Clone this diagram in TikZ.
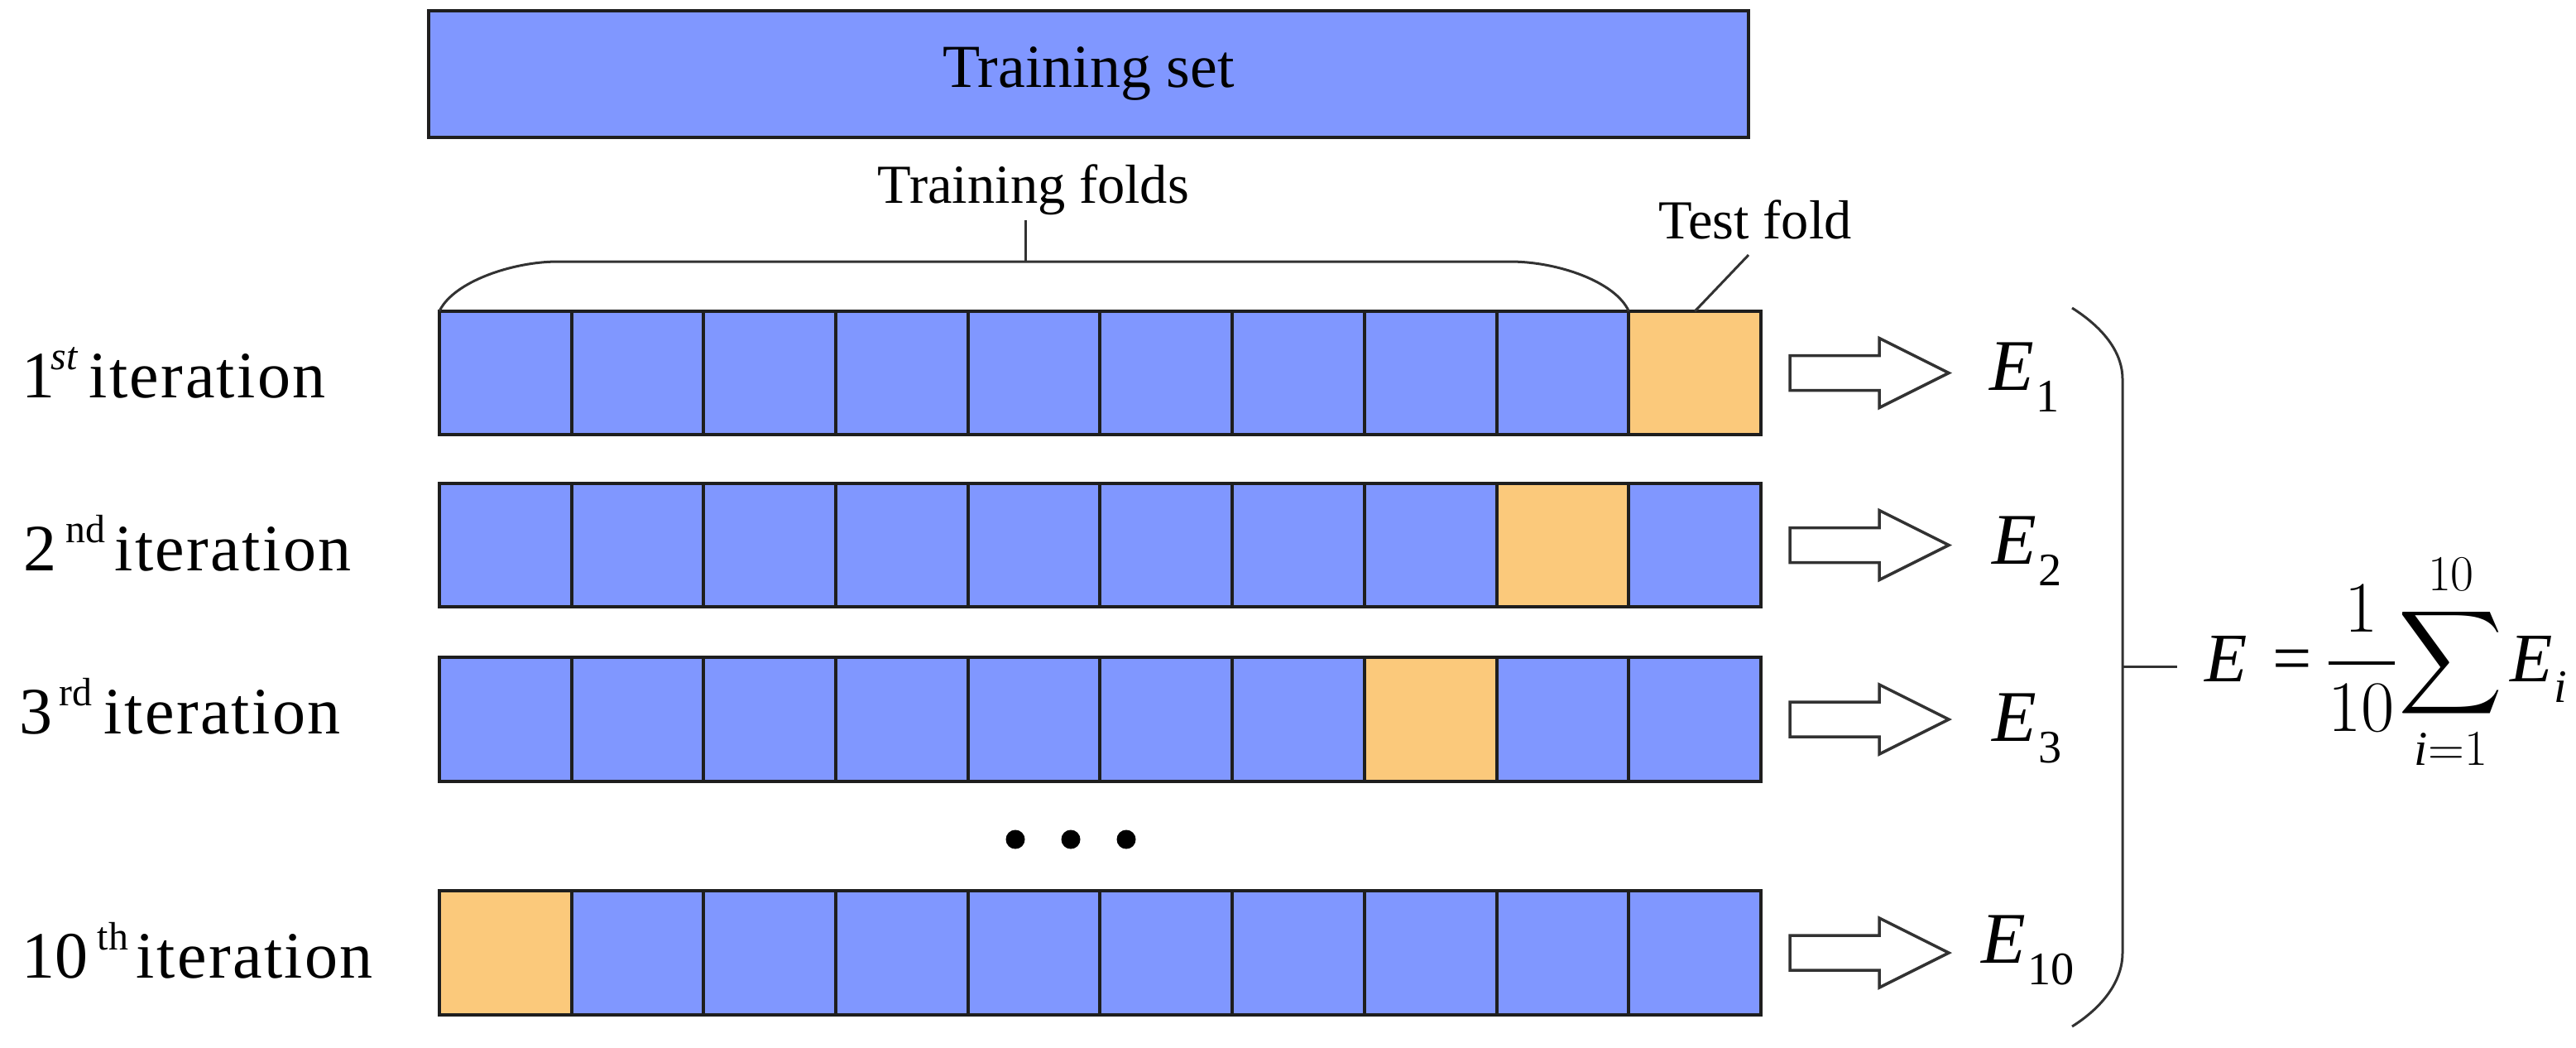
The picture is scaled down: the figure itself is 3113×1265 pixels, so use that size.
\documentclass[tikz,border=0pt]{standalone}
\usepackage{exscale}
\usepackage{fontspec}
\setmainfont{Liberation Serif}
\newfontfamily\iterfont[LetterSpace=3]{Liberation Serif}
\usetikzlibrary{calc}
\definecolor{foldblue}{RGB}{128,151,255}
\definecolor{foldorange}{RGB}{251,201,123}
\definecolor{edgec}{RGB}{30,30,30}
\definecolor{linec}{RGB}{50,50,50}
\newcommand\itlabel[5]{\makebox[#1][l]{#2}\makebox[#3][l]{\raisebox{0.42em}{\fontsize{13.6pt}{14pt}\selectfont #4}}{\iterfont #5}}
\newcommand\Esub[1]{\textit{E}\kern0.02em\raisebox{-0.3em}{\fontsize{16pt}{16pt}\selectfont #1}}
\begin{document}
\begin{tikzpicture}[x=0.01cm,y=-0.01cm,
  cell/.style={draw=edgec, line width=0.04cm, fill=foldblue, minimum width=1.597cm, minimum height=1.49cm, inner sep=0pt, outer sep=0pt},
  setbox/.style={draw=edgec, line width=0.04cm, fill=foldblue, minimum width=15.95cm, minimum height=1.53cm, inner sep=0pt, font=\fontsize{21pt}{25pt}\selectfont},
  smalllbl/.style={inner sep=0pt, anchor=base, font=\fontsize{18.9pt}{22pt}\selectfont},
  iterlbl/.style={inner sep=0pt, anchor=base west, font=\fontsize{22.76pt}{26pt}\selectfont},
  elabel/.style={inner sep=0pt, anchor=base west, font=\fontsize{25pt}{30pt}\selectfont},
  formula/.style={inner sep=0pt, anchor=base west, font=\fontsize{23.9pt}{28pt}\selectfont},
  bracketline/.style={draw=linec, line width=0.03cm},
  blockarrow/.style={draw=linec, line width=0.035cm, fill=white, line join=miter}
]
\useasboundingbox (0,0) rectangle (3113,1265);

% training set
\node[setbox] (ts) at (1315.5,89.5) {Training set};

% rows of folds
\foreach \r/\y/\t/\ex/\eb in {1/450.5/10/2404/471, 2/658.5/9/2407/681, 3/869/8/2407/895, 10/1151/1/2394/1163} {
  \foreach \i in {1,...,10} {
    \ifnum\i=\t\def\fc{foldorange}\else\def\fc{foldblue}\fi
    \node[cell, fill=\fc] (r\r-\i) at ({531+159.7*(\i-0.5)},\y) {};
  }
  \draw[blockarrow] ($(r\r-10.east)+(35,-21)$) -- ++(108,0) -- ++(0,-21) -- ++(84,42) -- ++(-84,42) -- ++(0,-21) -- ++(-108,0) -- cycle;
  \node[elabel] (e\r) at (\ex,\eb) {\Esub{\r}};
}

% labels on the left
\node[iterlbl] (l1) at (26,480) {\itlabel{0.35cm}{1}{0.46cm}{\itshape st}{iteration}};
\node[iterlbl] (l2) at (28,689) {\itlabel{0.51cm}{2}{0.59cm}{nd}{iteration}};
\node[iterlbl] (l3) at (23,886) {\itlabel{0.48cm}{3}{0.54cm}{rd}{iteration}};
\node[iterlbl] (l10) at (26,1181) {\itlabel{0.91cm}{10}{0.47cm}{th}{iteration}};

% training folds bracket
\node[smalllbl] (tfl) at (1249,245) {Training folds};
\draw[bracketline] (r1-1.north west) .. controls (548,340) and (620,316) .. (674,316) -- (1825,316) .. controls (1882,316) and (1952,340) .. (r1-9.north east);
\coordinate (tfmid) at (1239,316);
\coordinate (tftop) at (1239,266);
\draw[bracketline] (tfmid) -- (tftop);

% test fold label
\node[smalllbl] (tsl) at (2121,288) {Test fold};
\coordinate (tslend) at (2113,308);
\draw[bracketline] (r1-10.north) -- (tslend);

% dots
\fill (1227,1014) circle (0.115cm);
\fill (1294,1014) circle (0.115cm);
\fill (1361,1014) circle (0.115cm);

% big bracket and formula
\draw[bracketline] (2504,372) .. controls (2545,398) and (2565,428) .. (2565,458) -- (2565,1151) .. controls (2565,1182) and (2545,1214) .. (2504,1240);
\node[formula] (f) at (2664,823) {$\displaystyle \thickmuskip=0mu \medmuskip=0mu \thinmuskip=0mu \nulldelimiterspace=0pt \mbox{\textit{E}}\kern0.3cm\mbox{=}\kern0.2cm\frac{1}{10}\kern0.05cm\sum_{\mathit{i}=1}^{10}\kern0.08cm\mbox{\Esub{\itshape i}}$};
\coordinate (bmid) at (2565,805);
\coordinate (fend) at (2631,805);
\draw[bracketline] (bmid) -- (fend);
\end{tikzpicture}
\end{document}
